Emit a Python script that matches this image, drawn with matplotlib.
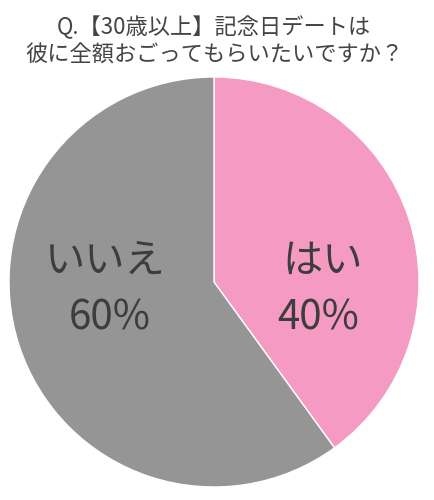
import matplotlib.pyplot as plt

plt.rcParams['font.family'] = ['Noto Sans CJK JP', 'DejaVu Sans']

labels = ['はい', 'いいえ']
values = [40, 60]
colors = ['#F49AC3', '#959595']
title = 'Q.【30歳以上】記念日デートは\n彼に全額おごってもらいたいですか？'

W, H = 434, 500
fig = plt.figure(figsize=(W / 100, H / 100), dpi=100)

# pie centre (214, 282) px, radius 205 px
cx, cy, r = 214, 282, 205
ax = fig.add_axes([(cx - r) / W, (H - cy - r) / H, 2 * r / W, 2 * r / H])
ax.pie(values, colors=colors, startangle=90, counterclock=False,
       wedgeprops=dict(edgecolor='white', linewidth=1.0))
ax.set_xlim(-1, 1)
ax.set_ylim(-1, 1)
ax.set_aspect('equal')
ax.axis('off')

txt = '#3d3d3d'
label_x = [0.53, -0.53]
pct_x = [0.507, -0.507]
for lab, v, lx, px in zip(labels, values, label_x, pct_x):
    ax.text(lx, 0.10, lab, ha='center', va='center', fontsize=29, color=txt)
    ax.text(px, -0.176, f'{v}%', ha='center', va='center', fontsize=29, color=txt)

fig.text(0.493, 1 - 41 / H, title, ha='center', va='center', fontsize=16,
         color='#444444', linespacing=1.25)

fig.savefig('out.png', dpi=100, facecolor='white')
